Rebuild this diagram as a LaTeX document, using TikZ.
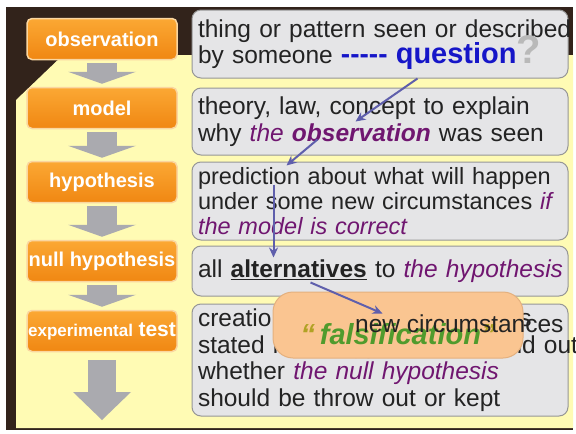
\documentclass[tikz,border=0pt]{standalone}
\usepackage{fontspec}
\setmainfont{Liberation Sans}
\usepackage{tikz}
\usetikzlibrary{arrows.meta,calc}
\definecolor{wood}{RGB}{50,35,27}
\definecolor{panel}{RGB}{255,251,180}
\definecolor{stagetop}{RGB}{251,168,52}
\definecolor{stagebot}{RGB}{240,135,18}
\definecolor{stageedge}{RGB}{250,214,160}
\definecolor{flowgray}{RGB}{170,170,175}
\definecolor{boxgray}{RGB}{229,229,231}
\definecolor{boxedge}{RGB}{150,150,150}
\definecolor{textdark}{RGB}{35,35,35}
\definecolor{hintpurple}{RGB}{112,22,112}
\definecolor{qblue}{RGB}{22,22,200}
\definecolor{falsgreen}{RGB}{80,155,45}
\definecolor{quotegold}{RGB}{176,162,36}
\definecolor{peach}{RGB}{250,197,145}
\definecolor{peachedge}{RGB}{228,176,126}
\definecolor{pointer}{RGB}{95,95,172}
\newcommand{\purp}[1]{\textcolor{hintpurple}{\textit{#1}}}

\begin{document}
\begin{tikzpicture}[x=1pt, y=-1pt,
  stage/.style={rectangle, rounded corners=5pt, draw=stageedge, line width=1.5pt, top color=stagetop, bottom color=stagebot, minimum width=150pt, minimum height=41pt, inner xsep=1pt, text=white, font=\fontsize{20}{22}\selectfont\bfseries},
  descbox/.style={rectangle, rounded corners=9pt, draw=boxedge, line width=1pt, fill=boxgray, minimum width=376pt, text width=364pt, inner xsep=6pt, inner ysep=2pt, align=left, text=textdark, font=\fontsize{24.5}{26.5}\selectfont},
  blob/.style={rectangle, rounded corners=20pt, draw=peachedge, line width=1pt, fill=peach, minimum width=250pt, minimum height=66pt, text height=38pt, text depth=0pt, text=falsgreen, font=\fontsize{29}{30}\selectfont\bfseries\itshape},
  flow/.style={draw=flowgray, line width=30pt, -{Triangle[length=12pt, width=68pt, line width=0pt]}, shorten <=3pt, shorten >=3pt},
  hint/.style={draw=pointer, line width=2pt, -{Stealth[length=10pt, width=9pt]}}]
\useasboundingbox (0,0) rectangle (576,434);
\fill[white] (0,0) rectangle (576,434);
\fill[wood] (6,7) rectangle (573,430);
\fill[panel] (16,100) -- (63,55) -- (573,55) -- (573,428) -- (16,428) -- cycle;

% left column: the steps
\node[stage] (obs) at (102,39) {observation};
\node[stage] (mod) at (102,108) {model};
\node[stage] (hyp) at (102,182) {hypothesis};
\node[stage] (nul) at (102,261) {null hypothesis};
\node[stage] (tst) at (102,331) {{\fontsize{17}{20}\selectfont experimental} {\fontsize{21}{22}\selectfont test}};
\coordinate (sink) at (102,420);
\foreach \a/\b in {obs/mod,mod/hyp,hyp/nul,nul/tst} \draw[flow] (\a) -- (\b);
\draw[flow, line width=28pt, -{Triangle[length=28pt, width=58pt, line width=0pt]}, shorten <=8pt, shorten >=0pt] (tst) -- (sink);

% right column: what each step means
\node[descbox, minimum height=68pt] (d1) at (380,44) {\mbox{thing or pattern seen or described}\\
\mbox{by someone \textcolor{qblue}{\fontsize{28}{26}\selectfont\bfseries{-}{-}{-}{-}{-}} \smash{\textcolor{qblue}{\fontsize{29}{26}\selectfont\bfseries question}}\smash{\textcolor{gray!55}{\fontsize{40}{26}\selectfont\bfseries ?}}}};
\node[descbox, minimum height=67pt] (d2) at (380,121.5) {\mbox{theory, law, concept to explain}\\
\mbox{why \purp{the} \textcolor{hintpurple}{\bfseries\itshape observation} was seen}};
\node[descbox, minimum height=78pt, font=\fontsize{23.5}{25}\selectfont] (d3) at (380,201) {\mbox{prediction about what will happen}\\
\mbox{under some new circumstances \purp{if}}\\
\purp{the model is correct}};
\node[descbox, minimum height=50pt] (d4) at (380,271) {\mbox{all \underline{\textbf{alternatives}} to \purp{the hypothesis}}};
\node[descbox, minimum height=112pt] (d5) at (380,360) {\mbox{creation of new circumstances}\\
\mbox{stated in \purp{the hypothesis} to find out}\\
\mbox{whether \purp{the null hypothesis}}\\
\mbox{should be throw out or kept}};

\node[blob] (fals) at (398,325) {\textcolor{quotegold}{``}\,falsification\textcolor{quotegold}{''}};
\node[anchor=base west, inner sep=0pt, text=textdark, font=\fontsize{24.5}{26}\selectfont] (newc) at (355,332) {new circumstances};

% pointers between the texts
\coordinate (p1a) at ($(d1.south west)+(226,0)$);
\coordinate (p1b) at ($(d2.north west)+(164,34)$);
\coordinate (p2a) at ($(d2.north west)+(126,52)$);
\coordinate (p2b) at ($(d3.north west)+(95,4)$);
\coordinate (p3a) at ($(d3.north west)+(82,23)$);
\coordinate (p3b) at ($(d4.north west)+(82,12)$);
\coordinate (p4a) at ($(d4.north west)+(119,37)$);
\coordinate (p4b) at ($(fals.north west)+(110,22)$);
\foreach \i in {1,...,4} \draw[hint] (p\i a) -- (p\i b);
\end{tikzpicture}
\end{document}
